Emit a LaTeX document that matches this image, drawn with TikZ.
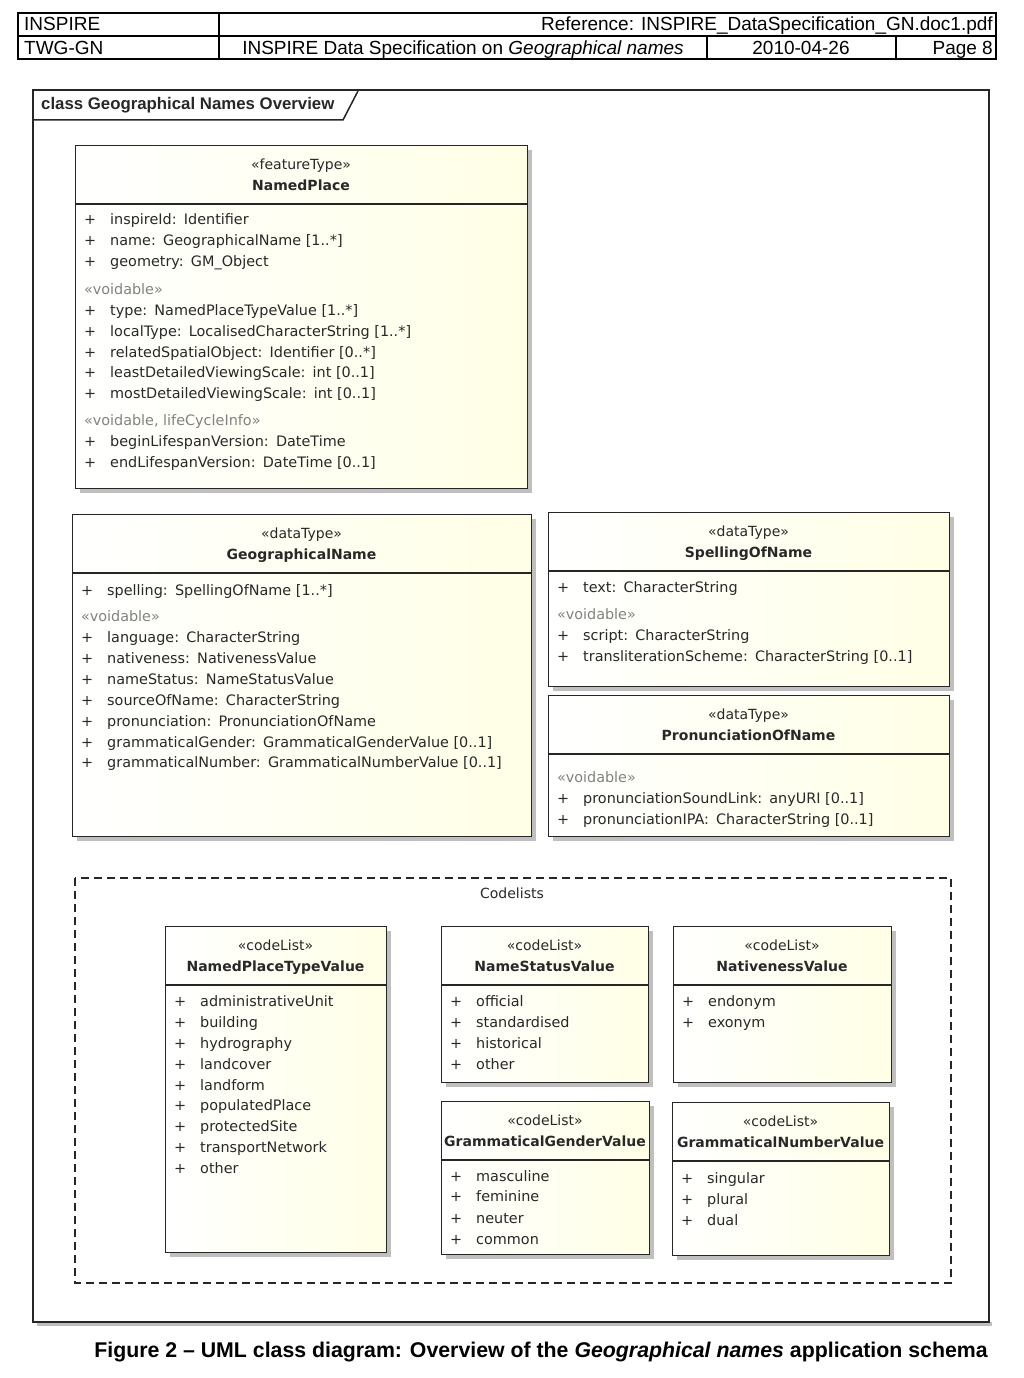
\documentclass[tikz,border=0pt]{standalone}
\usepackage{fontspec}
\setmainfont{DejaVu Sans}
\newfontfamily\arialf{Liberation Sans}
\usetikzlibrary{shadows}
\definecolor{cream}{RGB}{255,255,230}
\definecolor{txt}{RGB}{40,40,40}
\definecolor{voidc}{RGB}{130,130,130}
\newcommand\umlclass[7]{%
  \node[classbox, minimum width=#4pt, minimum height=#5pt] (#1) at (#2,#3) {};
  \draw[divline] ([yshift=-59pt]#1.north west) -- ([yshift=-59pt]#1.north east);
  \node[stereo] (#1st) at (#2+#4/2,#3+19+5) {#6};
  \node[cname] (#1nm) at (#2+#4/2,#3+40+5) {#7};
}
\newcommand\ua[4]{%
  \node[plus] (#1p) at (#2+9,#3+5) {+};
  \node[attr] (#1) at (#2+35,#3+5) {#4};
}
\newcommand\uv[4]{\node[voidtxt] (#1) at (#2+9,#3+5) {#4};}
\begin{document}
\begin{tikzpicture}[x=1pt,y=-1pt,
  classbox/.style={draw=black!85, line width=1.3pt, anchor=north west, inner sep=0pt,
    left color=white, right color=cream,
    drop shadow={shadow xshift=4pt, shadow yshift=-4pt, fill=black!25, opacity=1}},
  divline/.style={draw=black!85, line width=1.3pt},
  stereo/.style={anchor=base, inner sep=0pt, text=txt, font=\fontsize{14}{16}\selectfont},
  cname/.style={anchor=base, inner sep=0pt, text=txt, font=\fontsize{14}{16}\selectfont\bfseries},
  plus/.style={anchor=base west, inner sep=0pt, text=txt, font=\fontsize{14.4}{16}\selectfont},
  attr/.style={anchor=base west, inner sep=0pt, text=txt, font=\fontsize{14.4}{16}\selectfont},
  voidtxt/.style={anchor=base west, inner sep=0pt, text=voidc, font=\fontsize{14.4}{16}\selectfont},
  hdr/.style={anchor=base, inner sep=0pt, font=\arialf\fontsize{19}{21}\selectfont},
  tbl/.style={draw=black, line width=1.5pt},
  frame/.style={draw=black!85, line width=1.5pt},
]
\useasboundingbox[fill=white] (0,0) rectangle (1024,1378);

% header table
\draw[tbl] (18,13) rectangle (996,59);
\draw[tbl] (18,36) -- (996,36);
\draw[tbl] (219,13) -- (219,59);
\draw[tbl] (707,36) -- (707,59);
\draw[tbl] (896,36) -- (896,59);
\node[hdr, anchor=base west] (h1) at (24,31) {INSPIRE};
\node[hdr, anchor=base east] (h2) at (993,31) {Reference: INSPIRE\_DataSpecification\_GN.doc1.pdf};
\node[hdr, anchor=base west] (h3) at (24,55) {TWG-GN};
\node[hdr] (h4) at (463,55) {INSPIRE Data Specification on \textit{Geographical names}};
\node[hdr] (h5) at (801,55) {2010-04-26};
\node[hdr, anchor=base east] (h6) at (993,55) {Page 8};

% frame
\fill[black!25] (37,1322) rectangle (992,1326);
\draw[frame] (33,90) rectangle (989,1322);
\draw[frame] (33,120) -- (343,120) -- (358,91);
\node[anchor=base west, inner sep=0pt, text=txt, font=\arialf\fontsize{16.8}{18}\selectfont\bfseries] (title) at (41,110) {class Geographical Names Overview};

% NamedPlace
\umlclass{np}{75}{145}{452}{343}{«featureType»}{NamedPlace}
\ua{np1}{75}{219}{inspireId:\enspace Identifier}
\ua{np2}{75}{240}{name:\enspace GeographicalName [1..*]}
\ua{np3}{75}{261}{geometry:\enspace GM\_Object}
\uv{npv1}{75}{289}{«voidable»}
\ua{np4}{75}{310}{type:\enspace NamedPlaceTypeValue [1..*]}
\ua{np5}{75}{331}{localType:\enspace LocalisedCharacterString [1..*]}
\ua{np6}{75}{352}{relatedSpatialObject:\enspace Identifier [0..*]}
\ua{np7}{75}{372}{leastDetailedViewingScale:\enspace int [0..1]}
\ua{np8}{75}{393}{mostDetailedViewingScale:\enspace int [0..1]}
\uv{npv2}{75}{420}{«voidable, lifeCycleInfo»}
\ua{np9}{75}{441}{beginLifespanVersion:\enspace DateTime}
\ua{np10}{75}{462}{endLifespanVersion:\enspace DateTime [0..1]}

% GeographicalName
\umlclass{gn}{72}{514}{459}{322}{«dataType»}{GeographicalName}
\ua{gn1}{72}{590}{spelling:\enspace SpellingOfName [1..*]}
\uv{gnv1}{72}{616}{«voidable»}
\ua{gn2}{72}{637}{language:\enspace CharacterString}
\ua{gn3}{72}{658}{nativeness:\enspace NativenessValue}
\ua{gn4}{72}{679}{nameStatus:\enspace NameStatusValue}
\ua{gn5}{72}{700}{sourceOfName:\enspace CharacterString}
\ua{gn6}{72}{721}{pronunciation:\enspace PronunciationOfName}
\ua{gn7}{72}{742}{grammaticalGender:\enspace GrammaticalGenderValue [0..1]}
\ua{gn8}{72}{762}{grammaticalNumber:\enspace GrammaticalNumberValue [0..1]}

% SpellingOfName
\umlclass{sn}{548}{512}{401}{174}{«dataType»}{SpellingOfName}
\ua{sn1}{548}{587}{text:\enspace CharacterString}
\uv{snv1}{548}{614}{«voidable»}
\ua{sn2}{548}{635}{script:\enspace CharacterString}
\ua{sn3}{548}{656}{transliterationScheme:\enspace CharacterString [0..1]}

% PronunciationOfName
\umlclass{pn}{548}{695}{401}{141}{«dataType»}{PronunciationOfName}
\uv{pnv1}{548}{777}{«voidable»}
\ua{pn1}{548}{798}{pronunciationSoundLink:\enspace anyURI [0..1]}
\ua{pn2}{548}{819}{pronunciationIPA:\enspace CharacterString [0..1]}

% Codelists package
\draw[draw=black!85, line width=1.3pt, dash pattern=on 8pt off 5pt] (75,878) rectangle (951,1283);
\node[stereo] (cl) at (512,898) {Codelists};

% NamedPlaceTypeValue
\umlclass{nt}{165}{926}{221}{326}{«codeList»}{NamedPlaceTypeValue}
\ua{nt1}{165}{1001}{administrativeUnit}
\ua{nt2}{165}{1022}{building}
\ua{nt3}{165}{1043}{hydrography}
\ua{nt4}{165}{1064}{landcover}
\ua{nt5}{165}{1085}{landform}
\ua{nt6}{165}{1105}{populatedPlace}
\ua{nt7}{165}{1126}{protectedSite}
\ua{nt8}{165}{1147}{transportNetwork}
\ua{nt9}{165}{1168}{other}

% NameStatusValue
\umlclass{ns}{441}{926}{207}{156}{«codeList»}{NameStatusValue}
\ua{ns1}{441}{1001}{official}
\ua{ns2}{441}{1022}{standardised}
\ua{ns3}{441}{1043}{historical}
\ua{ns4}{441}{1064}{other}

% NativenessValue
\umlclass{nv}{673}{926}{218}{156}{«codeList»}{NativenessValue}
\ua{nv1}{673}{1001}{endonym}
\ua{nv2}{673}{1022}{exonym}

% GrammaticalGenderValue
\umlclass{gg}{441}{1101}{208}{153}{«codeList»}{GrammaticalGenderValue}
\ua{gg1}{441}{1176}{masculine}
\ua{gg2}{441}{1196}{feminine}
\ua{gg3}{441}{1218}{neuter}
\ua{gg4}{441}{1239}{common}

% GrammaticalNumberValue
\umlclass{gm}{672}{1102}{217}{153}{«codeList»}{GrammaticalNumberValue}
\ua{gm1}{672}{1178}{singular}
\ua{gm2}{672}{1199}{plural}
\ua{gm3}{672}{1220}{dual}

% caption
\node[anchor=base, inner sep=0pt, font=\arialf\fontsize{21.3}{24}\selectfont\bfseries] (cap) at (541,1357)
  {Figure 2 – UML class diagram: Overview of the \textit{Geographical names} application schema};
\end{tikzpicture}
\end{document}
